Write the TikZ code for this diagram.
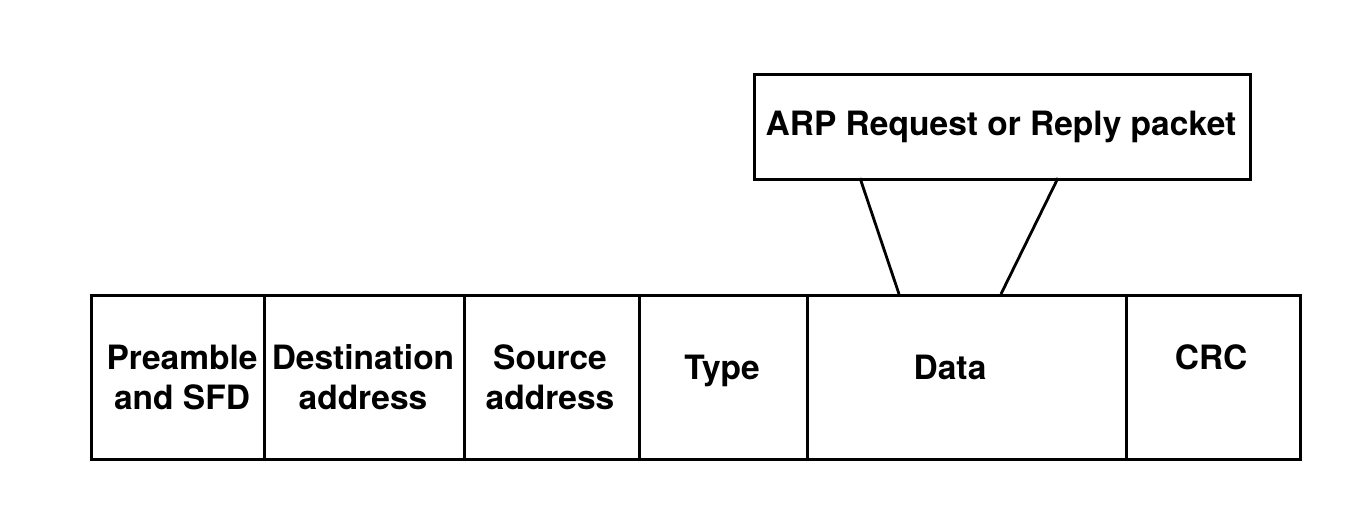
\documentclass[tikz,border=0pt]{standalone}
\usepackage{fontspec}
\setmainfont{TeX Gyre Heros}
\begin{document}
\begin{tikzpicture}[x=1pt,y=-1pt,
  field/.style={draw=black,line width=2.8pt,inner sep=0pt,anchor=north west,minimum height=164pt},
  lbl/.style={font=\fontsize{33.5}{40}\selectfont\bfseries,align=center,inner sep=0pt,anchor=base},
  conn/.style={draw=black,line width=2.8pt}]
\useasboundingbox[fill=white] (0,0) rectangle (1364,530);
% fields
\node[field,minimum width=173pt] (f1) at (90,294) {};
\node[field,minimum width=200pt] (f2) at (263,294) {};
\node[field,minimum width=175pt] (f3) at (463,294) {};
\node[field,minimum width=168pt] (f4) at (638,294) {};
\node[field,minimum width=319pt] (f5) at (806,294) {};
\node[field,minimum width=174pt] (f6) at (1125,294) {};
% labels
\node[lbl] (t1) at (182,409) {Preamble\\and SFD};
\node[lbl] (t2) at (363,409) {Destination\\address};
\node[lbl] (t3) at (550,409) {Source\\address};
\node[lbl] (t4) at (722,379) {Type};
\node[lbl] (t5) at (950,379) {Data};
\node[lbl] (t6) at (1211,369) {CRC};
% ARP box
\node[field,minimum width=496pt,minimum height=105pt] (arp) at (753,73) {};
\node[lbl] (tarp) at (1001,135) {ARP Request or Reply packet};
% connectors
\coordinate (a1) at (860,178);
\coordinate (a2) at (1058,178);
\coordinate (b1) at (899,294);
\coordinate (b2) at (1001,294);
\draw[conn] (a1) -- (b1);
\draw[conn] (a2) -- (b2);
\end{tikzpicture}
\end{document}
